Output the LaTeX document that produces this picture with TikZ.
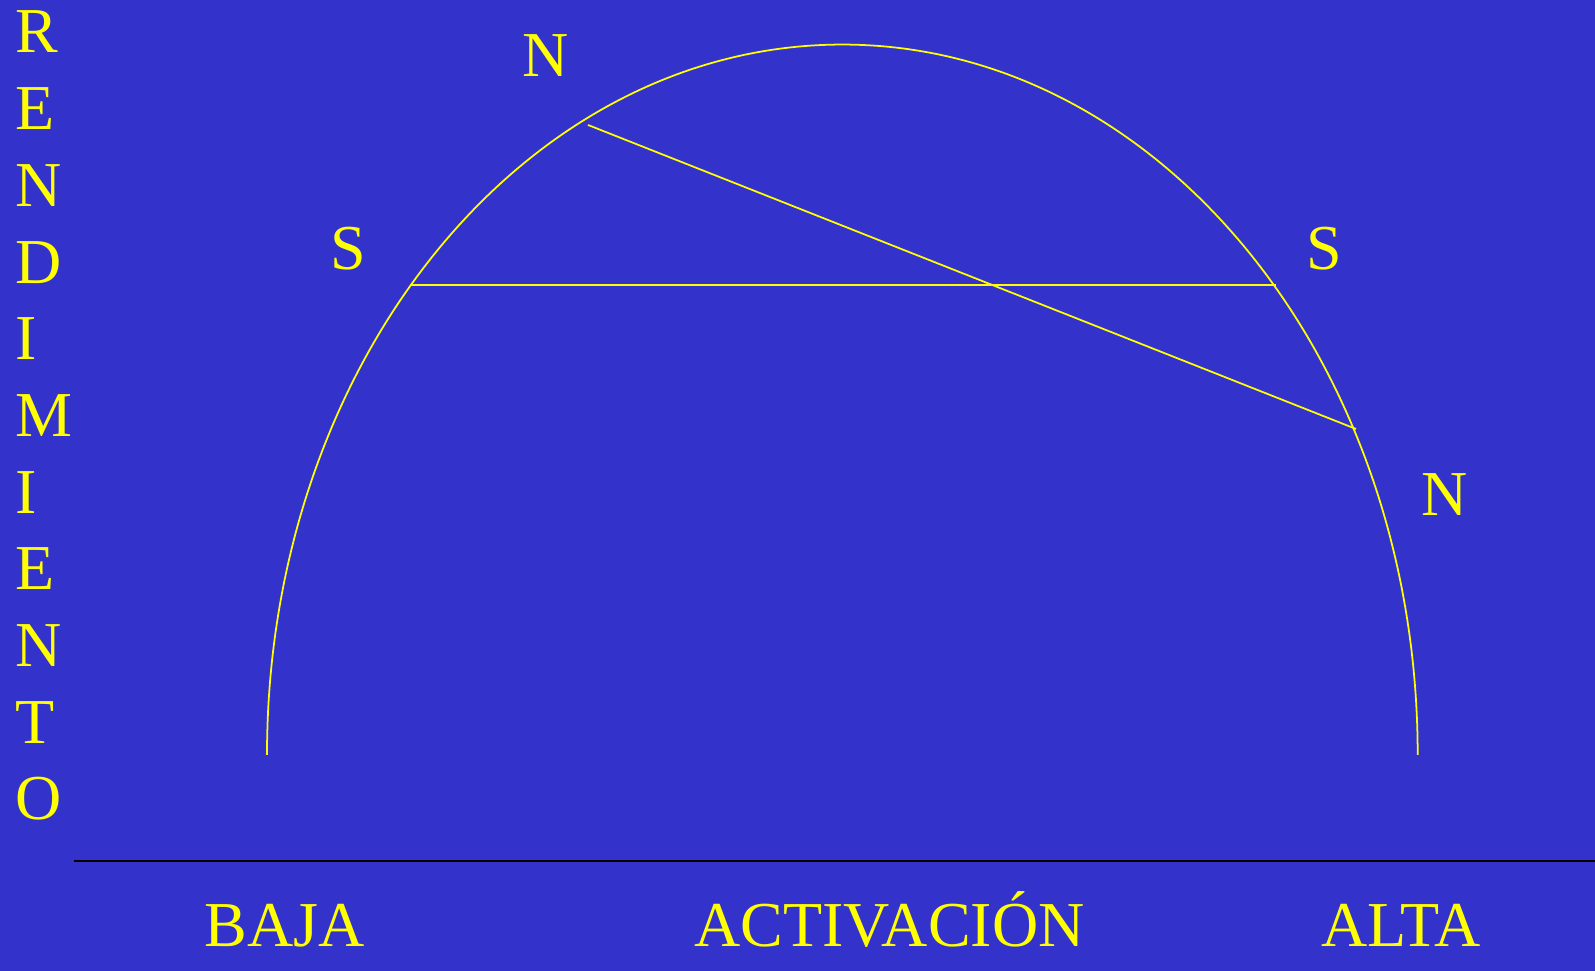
\documentclass[tikz,border=0pt]{standalone}
\usepackage{fontspec}
\setmainfont{Liberation Serif}
\definecolor{bgblue}{RGB}{51,51,204}
\definecolor{yel}{RGB}{255,255,0}
\begin{document}
\begin{tikzpicture}[x=0.01cm,y=0.01cm,
  lbl/.style={text=yel,inner sep=0pt,font=\fontsize{18.2}{21.8}\selectfont},
  curve/.style={draw=yel,line width=0.5pt},
  axis/.style={draw=black,line width=0.55pt}]
\fill[bgblue] (0,0) rectangle (1595,971);
\useasboundingbox (0,0) rectangle (1595,971);
% arc
\coordinate (aL) at (267,216);
\draw[curve] (aL) arc[start angle=180,end angle=0,x radius=5.75cm,y radius=7.10cm] -- ++(0,4);
% lines
\coordinate (hL) at (410,686);
\coordinate (hR) at (1276,686);
\draw[curve] (hL) -- (hR);
\coordinate (dA) at (588,846);
\coordinate (dB) at (1356,542);
\draw[curve] (dA) -- (dB);
% axis
\coordinate (xL) at (74,110);
\coordinate (xR) at (1595,110);
\draw[axis] (xL) -- (xR);
% vertical label
\foreach \l [count=\i] in {R,E,N,D,I,M,I,E,N,T,O}
  \node[lbl,anchor=base west] (v\i) at (15,{971-53-(\i-1)*76.7}) {\l};
% labels
\node[lbl,anchor=base] (baja) at (285,24) {BAJA};
\node[lbl,anchor=base] (act) at (889.5,24) {ACTIVACIÓN};
\node[lbl,anchor=base] (alta) at (1401,24) {ALTA};
\node[lbl,anchor=base] (n1) at (546,894) {N};
\node[lbl,anchor=base] (n2) at (1445,455) {N};
\node[lbl,anchor=base] (s1) at (348,701) {S};
\node[lbl,anchor=base] (s2) at (1324,701) {S};
\end{tikzpicture}
\end{document}
